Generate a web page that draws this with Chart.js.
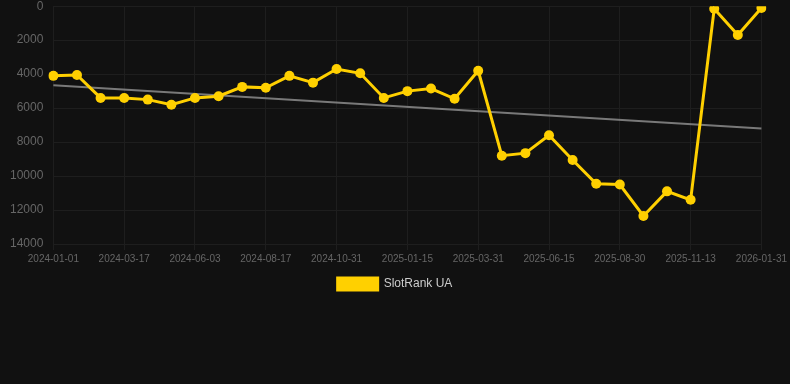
<!DOCTYPE html>
<html>
<head>
<meta charset="utf-8">
<script src="https://cdn.jsdelivr.net/npm/chart.js@4"></script>
<style>
  html, body { margin: 0; padding: 0; background: #111111; overflow: hidden; }
  #wrap { width: 790px; height: 395px; margin-top: -11px; }
</style>
</head>
<body>
<div id="wrap"><canvas id="my-chart"></canvas></div>
<script>
const fechas = [
  "2024-01-01", "2024-01-26", "2024-02-21", "2024-03-17", "2024-04-11", "2024-05-08",
  "2024-06-03", "2024-06-28", "2024-07-23", "2024-08-17", "2024-09-11", "2024-10-06",
  "2024-10-31", "2024-11-26", "2024-12-21", "2025-01-15", "2025-02-09", "2025-03-06",
  "2025-03-31", "2025-04-26", "2025-05-21", "2025-06-15", "2025-07-10", "2025-08-04",
  "2025-08-30", "2025-09-24", "2025-10-19", "2025-11-13", "2025-12-08", "2026-01-04",
  "2026-01-31"
];

const rankUA = [
  4100, 4050, 5400, 5400, 5500, 5800, 5400, 5300, 4750, 4800,
  4100, 4500, 3700, 3950, 5400, 5000, 4850, 5450, 3800, 8800,
  8650, 7600, 9050, 10450, 10500, 12350, 10900, 11400, 150, 1700,
  100
];

// linea de tendencia: solo extremos, el resto se une con spanGaps
const tendencia = [4650];
for (let i = 1; i < fechas.length - 1; i++) tendencia.push(null);
tendencia.push(7200);

const ticksY = [0, 2000, 4000, 6000, 8000, 10000, 12000, 14000];

const config = {
  type: "line",
  data: {
    labels: fechas,
    datasets: [
      {
        label: "SlotRank UA",
        data: rankUA,
        borderColor: "rgb(255, 208, 0)",
        backgroundColor: "rgb(255, 208, 0)",
        borderWidth: 3,
        pointRadius: 5,
        pointBackgroundColor: "rgb(255, 208, 0)",
        pointBorderWidth: 0,
        tension: 0,
      },
      {
        label: "trend",
        data: tendencia,
        borderColor: "rgba(140, 140, 140, 0.85)",
        borderWidth: 2,
        pointRadius: 0,
        spanGaps: true,
      },
    ],
  },
  options: {
    responsive: true,
    maintainAspectRatio: false,
    animation: false,
    layout: { padding: { left: 0, right: 0, top: 0, bottom: 84 } },
    plugins: {
      tooltip: { enabled: false },
      legend: {
        position: "bottom",
        labels: {
          color: "#cccccc",
          font: { size: 12 },
          boxWidth: 40,
          boxHeight: 12,
          filter: (item) => item.text !== "trend",
        },
      },
    },
    scales: {
      x: {
        grid: { color: "#1e1e1e", drawTicks: true, tickLength: 6 },
        border: { color: "#1e1e1e" },
        ticks: {
          color: "#666666",
          font: { size: 10 },
          autoSkip: false,
          maxRotation: 0,
          callback: function (val, i) {
            return i % 3 === 0 ? fechas[i] : null;
          },
        },
      },
      y: {
        reverse: true,
        min: ticksY[0],
        max: ticksY[ticksY.length - 1],
        grid: { color: "#1e1e1e", drawTicks: false },
        border: { color: "#1e1e1e" },
        ticks: {
          color: "#666666",
          font: { size: 12 },
          stepSize: 2000,
          padding: 10,
          callback: (v) => String(v),
        },
      },
    },
  },
};

new Chart(document.getElementById("my-chart"), config);
</script>
</body>
</html>
